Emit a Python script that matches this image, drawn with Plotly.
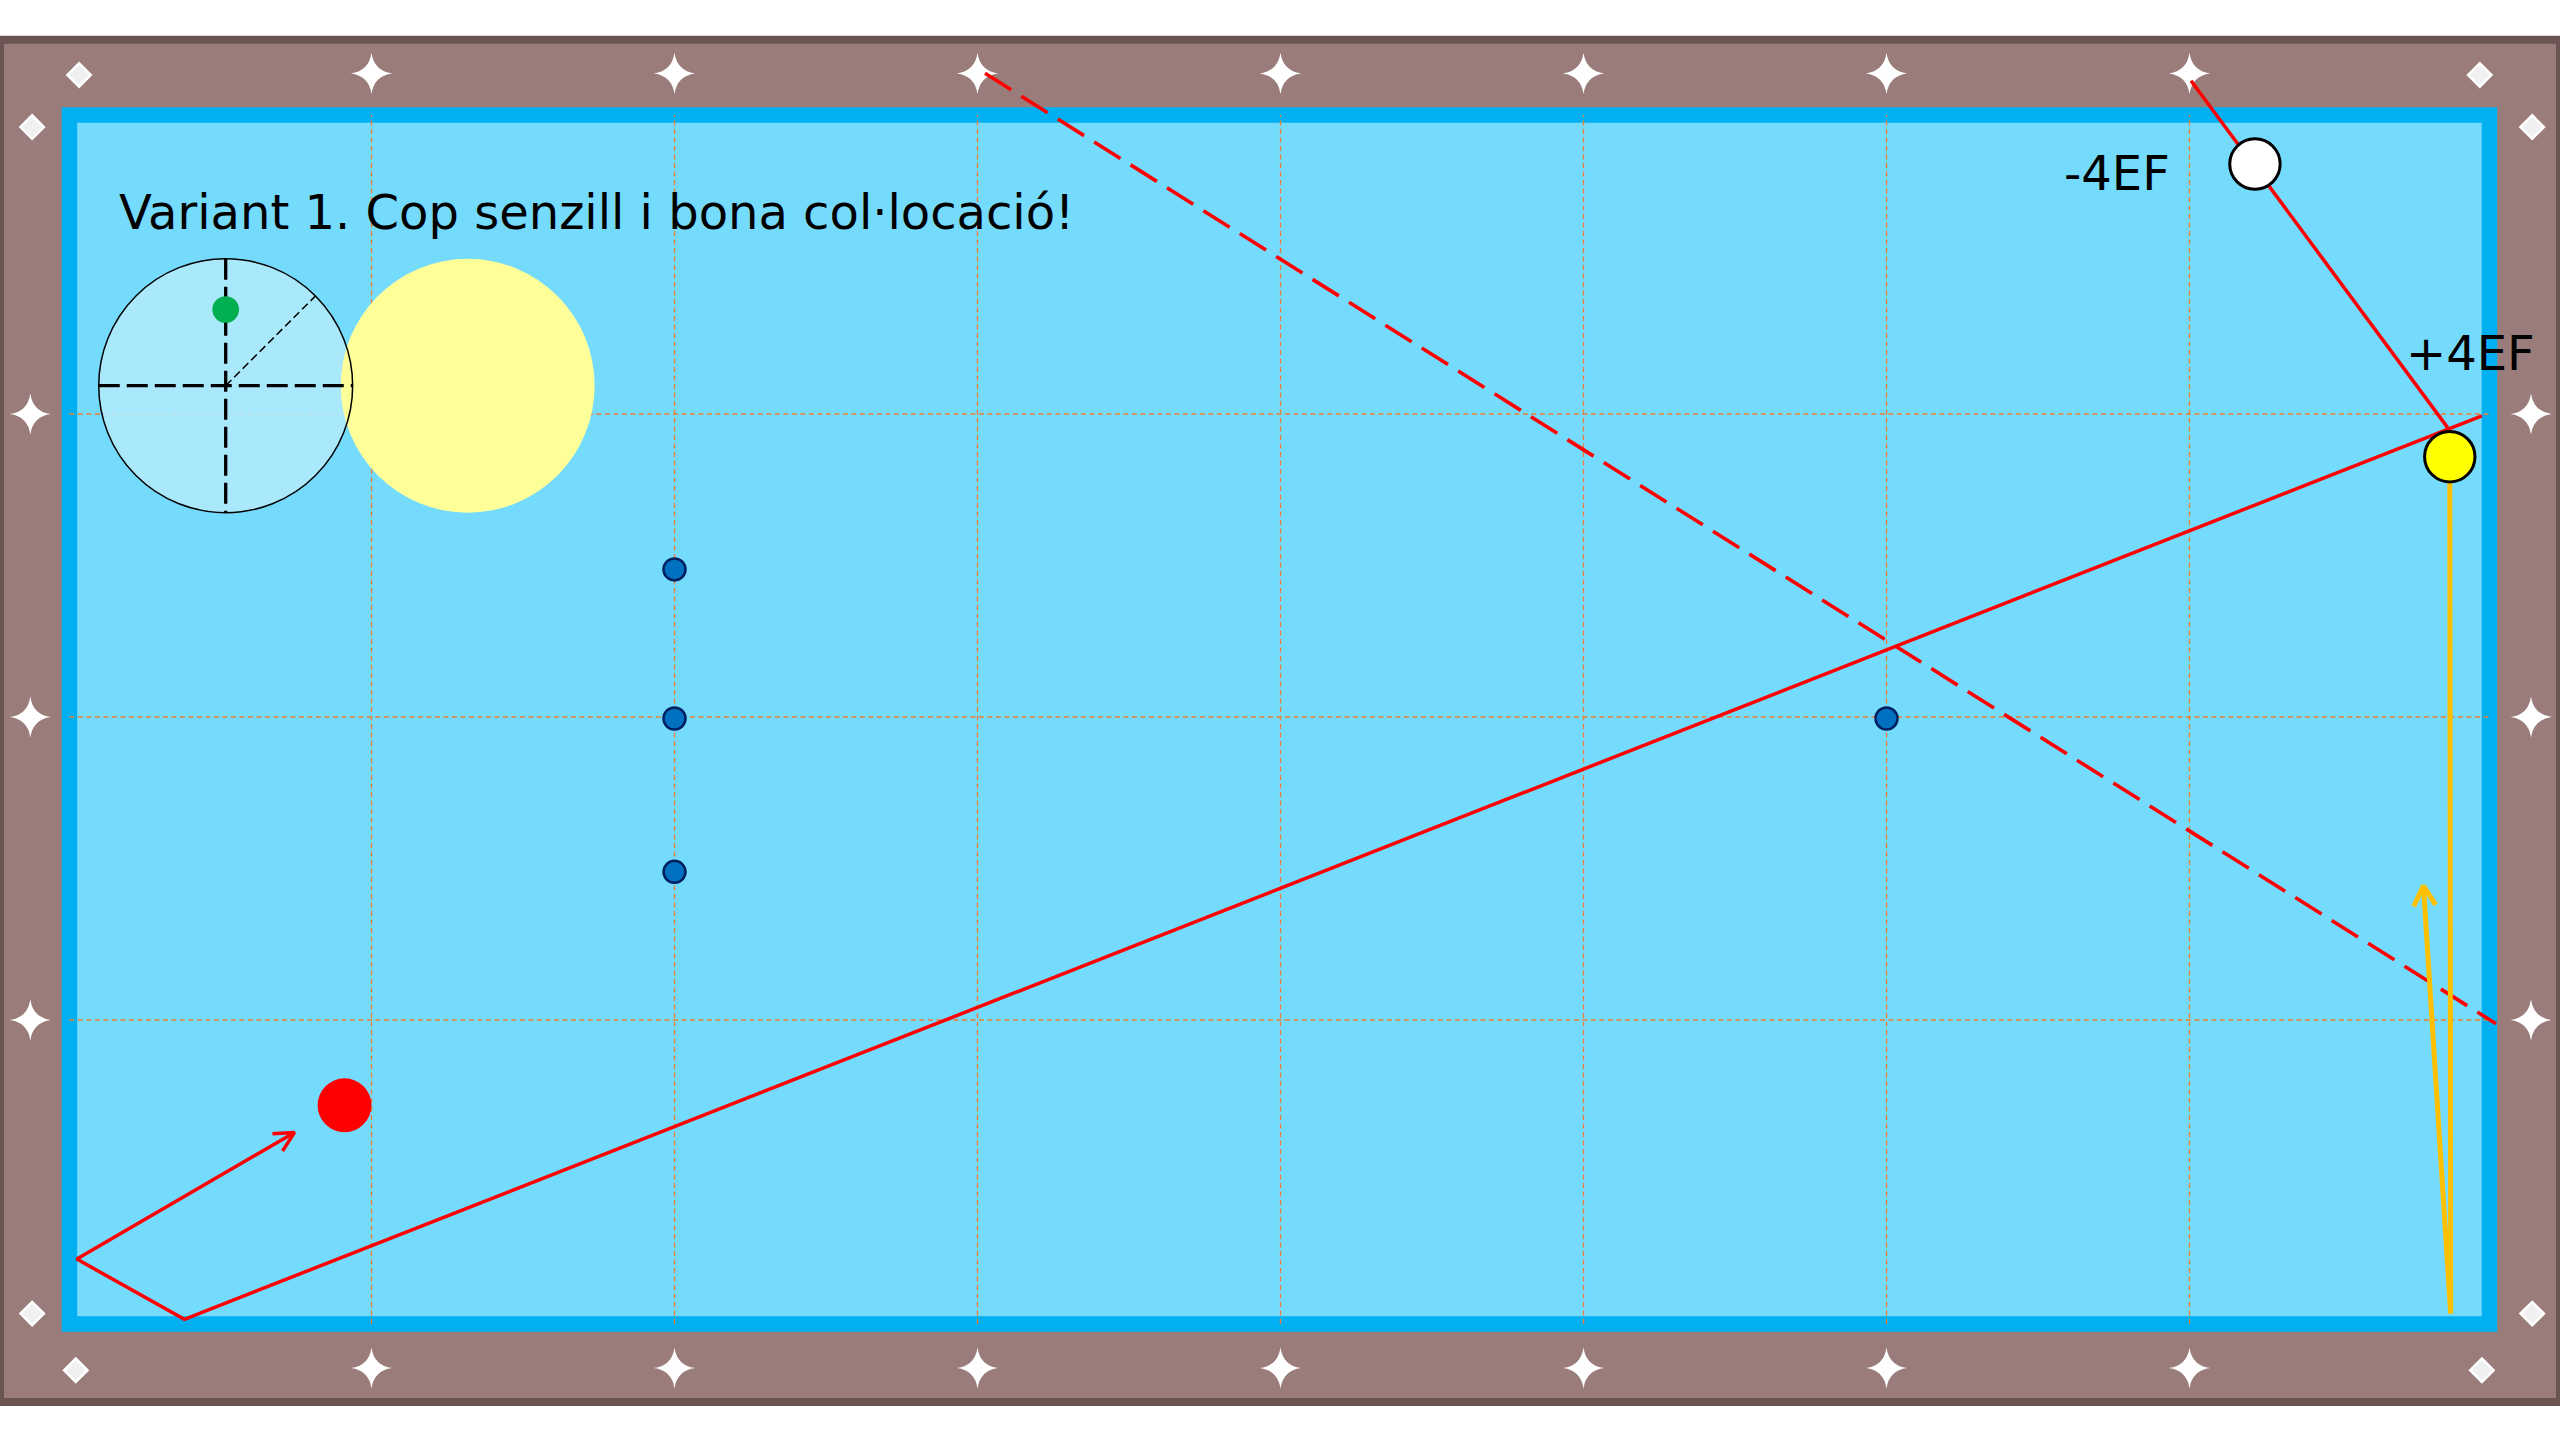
import math
import plotly.graph_objects as go

# ---------------- data (table in diamond units: x 0..8, y 0..4) ----------------
FRAME_X = [-0.2261, 8.2228]
FRAME_Y = [-0.2607, 4.2353]
CUSHION_X = [0.003, 7.99]
CUSHION_Y = [-0.003, 3.987]
GRID_X = [1, 2, 3, 4, 5, 6, 7]
GRID_Y = [1, 2, 3]

STAR_X = [1, 2, 3, 4, 5, 6, 7]
STAR_Y_TOP = 4.124
STAR_Y_BOTTOM = -0.1485
STAR_Y_SIDE = [1, 2, 3]
STAR_X_LEFT = -0.126
STAR_X_RIGHT = 8.127

CORNER_X = [0.035, 7.958, -0.12, 8.131, -0.12, 8.131, 0.024, 7.965]
CORNER_Y = [4.119, 4.119, 3.947, 3.947, 0.031, 0.031, -0.156, -0.156]

TITLE = "Variant 1. Cop senzill i bona col·locació!"
TITLE_X = 0.160
TITLE_Y = 3.667

SPIN_CENTER = (0.5188, 3.0934)
SPIN_RADIUS = 0.419
SPIN_TIP = (0.0, 0.6)          # cue tip offset, in ball radii
SPIN_ANGLE_DEG = 45
OBJECT_DISC_CENTER = (1.3175, 3.0934)

BALL_R = 0.0832
WHITE_BALL = (7.216, 3.825)
YELLOW_BALL = (7.859, 2.859)
RED_BALL = (0.911, 0.7185)
RED_BALL_R = 0.089
MARK_X = [2.0, 2.0, 2.0, 6.0]
MARK_Y = [2.487, 1.995, 1.489, 1.995]
MARK_R = 0.0363

AIM_X = [7.005, 7.852]
AIM_Y = [4.100, 2.955]
CUE_PATH_X = [7.965, 0.3825, 0.0274, 0.746]
CUE_PATH_Y = [2.994, 0.0122, 0.211, 0.629]
REF_X = [3.0248, 8.0116]
REF_Y = [4.1244, 0.9875]
OBJ_PATH_X = [7.859, 7.862, 7.772]
OBJ_PATH_Y = [2.859, 0.031, 1.443]

LABELS = ["-4EF", "+4EF"]
LABEL_X = [6.7597, 7.928]
LABEL_Y = [3.797, 3.2023]

# ---------------- styles ----------------
X_RANGE = [-68.5 / 303, (2560 - 68.5) / 303]
Y_RANGE = [(1323 - 1440) / 303, 1323 / 303]
FELT = "#75DBFD"
CUSHION = "#00B0F0"
RAIL = "#9A7D7A"
RAIL_EDGE = "#6A5553"
GRID = "#ED7D31"
RED = "#FF0000"
ORANGE = "#FFC000"
FONT = "DejaVu Sans"
STAR_R = 0.068


def arrow_head(xs, ys, length, half_angle):
    dx, dy = xs[-1] - xs[-2], ys[-1] - ys[-2]
    back = math.atan2(dy, dx) + math.pi
    hx, hy = [], []
    for s in (-1, 1):
        a = back + s * math.radians(half_angle)
        hx.append(xs[-1] + length * math.cos(a))
        hy.append(ys[-1] + length * math.sin(a))
    return [hx[0], xs[-1], hx[1]], [hy[0], ys[-1], hy[1]]


def circle(cx, cy, r, fill, line_color=None, width=0, layer="above"):
    return dict(type="circle", xref="x", yref="y", layer=layer,
                x0=cx - r, x1=cx + r, y0=cy - r, y1=cy + r,
                fillcolor=fill,
                line=dict(color=line_color or "rgba(0,0,0,0)", width=width))


def sparkle(cx, cy, r):
    c = r * 0.12
    pts = [(cx - r, cy), (cx, cy + r), (cx + r, cy), (cx, cy - r)]
    ctr = [(cx - c, cy + c), (cx + c, cy + c), (cx + c, cy - c), (cx - c, cy - c)]
    d = "M %.5f,%.5f" % pts[0]
    for i in range(4):
        nx, ny = pts[(i + 1) % 4]
        qx, qy = ctr[i]
        d += " Q %.5f,%.5f %.5f,%.5f" % (qx, qy, nx, ny)
    d += " Z"
    return dict(type="path", xref="x", yref="y", layer="below", path=d,
                fillcolor="white", line=dict(width=0, color="rgba(0,0,0,0)"))


fig = go.Figure()
shapes = []

# rail frame and cushion/felt
shapes.append(dict(type="rect", xref="x", yref="y", layer="below",
                   x0=FRAME_X[0], x1=FRAME_X[1], y0=FRAME_Y[0], y1=FRAME_Y[1],
                   fillcolor=RAIL, line=dict(color=RAIL_EDGE, width=8)))
shapes.append(dict(type="rect", xref="x", yref="y", layer="below",
                   x0=CUSHION_X[0], x1=CUSHION_X[1], y0=CUSHION_Y[0], y1=CUSHION_Y[1],
                   fillcolor=FELT, line=dict(color=CUSHION, width=15.5)))

# rail sights (stars)
star_x = STAR_X + STAR_X + [STAR_X_LEFT] * 3 + [STAR_X_RIGHT] * 3
star_y = [STAR_Y_TOP] * 7 + [STAR_Y_BOTTOM] * 7 + STAR_Y_SIDE + STAR_Y_SIDE
for sx, sy in zip(star_x, star_y):
    shapes.append(sparkle(sx, sy, STAR_R))

# grid lines
for gx in GRID_X:
    fig.add_trace(go.Scatter(x=[gx, gx], y=[CUSHION_Y[0], CUSHION_Y[1]], mode="lines",
                             line=dict(color=GRID, width=1.3, dash="5px,3.5px"),
                             hoverinfo="skip"))
for gy in GRID_Y:
    fig.add_trace(go.Scatter(x=[CUSHION_X[0], CUSHION_X[1]], y=[gy, gy], mode="lines",
                             line=dict(color=GRID, width=1.3, dash="5px,3.5px"),
                             hoverinfo="skip"))

# ball paths
fig.add_trace(go.Scatter(x=REF_X, y=REF_Y, mode="lines",
                         line=dict(color=RED, width=3.6, dash="31px,12px"), hoverinfo="skip"))
fig.add_trace(go.Scatter(x=AIM_X, y=AIM_Y, mode="lines",
                         line=dict(color=RED, width=3.5), hoverinfo="skip"))
fig.add_trace(go.Scatter(x=CUE_PATH_X, y=CUE_PATH_Y, mode="lines",
                         line=dict(color=RED, width=3.5), hoverinfo="skip"))
ahx, ahy = arrow_head(CUE_PATH_X, CUE_PATH_Y, 0.073, 27)
fig.add_trace(go.Scatter(x=ahx, y=ahy, mode="lines",
                         line=dict(color=RED, width=3.5), hoverinfo="skip"))
fig.add_trace(go.Scatter(x=OBJ_PATH_X, y=OBJ_PATH_Y, mode="lines",
                         line=dict(color=ORANGE, width=5), hoverinfo="skip"))
ohx, ohy = arrow_head(OBJ_PATH_X, OBJ_PATH_Y, 0.075, 29)
fig.add_trace(go.Scatter(x=ohx, y=ohy, mode="lines",
                         line=dict(color=ORANGE, width=5), hoverinfo="skip"))

# corner sights
fig.add_trace(go.Scatter(x=CORNER_X, y=CORNER_Y, mode="markers",
                         marker=dict(symbol="diamond", size=18, color="#F0F0F0",
                                     line=dict(width=2.5, color="white")), hoverinfo="skip"))

# spin indicator and object disc
cx, cy = SPIN_CENTER
R = SPIN_RADIUS
shapes.append(circle(cx, cy, R, "rgba(178,233,252,0.88)"))
shapes.append(circle(OBJECT_DISC_CENTER[0], OBJECT_DISC_CENTER[1], R, "#FFFF99"))
shapes.append(circle(cx, cy, R, "rgba(0,0,0,0)", "black", 1.5))
shapes.append(dict(type="line", xref="x", yref="y", layer="above",
                   x0=cx - R, x1=cx + R, y0=cy, y1=cy,
                   line=dict(color="black", width=3.3, dash="21px,7px")))
shapes.append(dict(type="line", xref="x", yref="y", layer="above",
                   x0=cx, x1=cx, y0=cy + R, y1=cy - R,
                   line=dict(color="black", width=3.3, dash="21px,7px")))
ang = math.radians(SPIN_ANGLE_DEG)
shapes.append(dict(type="line", xref="x", yref="y", layer="above",
                   x0=cx, x1=cx + R * math.cos(ang), y0=cy, y1=cy + R * math.sin(ang),
                   line=dict(color="black", width=1.5, dash="8px,4px")))
shapes.append(circle(cx + SPIN_TIP[0] * R, cy + SPIN_TIP[1] * R, 0.044, "#00B050"))

# diamond marks on the cloth
for mx, my in zip(MARK_X, MARK_Y):
    shapes.append(circle(mx, my, MARK_R, "#0070C0", "#002060", 2.5))

# balls
shapes.append(circle(RED_BALL[0], RED_BALL[1], RED_BALL_R, RED))
shapes.append(circle(WHITE_BALL[0], WHITE_BALL[1], BALL_R, "white", "black", 3))
shapes.append(circle(YELLOW_BALL[0], YELLOW_BALL[1], BALL_R, "#FFFF00", "black", 3))

annotations = [dict(x=TITLE_X, y=TITLE_Y, xref="x", yref="y", text=TITLE,
                    showarrow=False, xanchor="left", yanchor="middle",
                    font=dict(family=FONT, size=48, color="black"))]
for t, lx, ly in zip(LABELS, LABEL_X, LABEL_Y):
    annotations.append(dict(x=lx, y=ly, xref="x", yref="y", text=t, showarrow=False,
                            xanchor="center", yanchor="middle",
                            font=dict(family=FONT, size=48, color="black")))

fig.update_layout(
    width=2560, height=1440,
    margin=dict(l=0, r=0, t=0, b=0, pad=0),
    paper_bgcolor="white", plot_bgcolor="white",
    showlegend=False, hovermode=False,
    xaxis=dict(range=X_RANGE, visible=False, fixedrange=True),
    yaxis=dict(range=Y_RANGE, visible=False, fixedrange=True),
    shapes=shapes, annotations=annotations,
)

fig.write_html("out.html", config={"displayModeBar": False},
               post_script="document.body.style.margin='0';document.body.style.overflow='hidden';")
